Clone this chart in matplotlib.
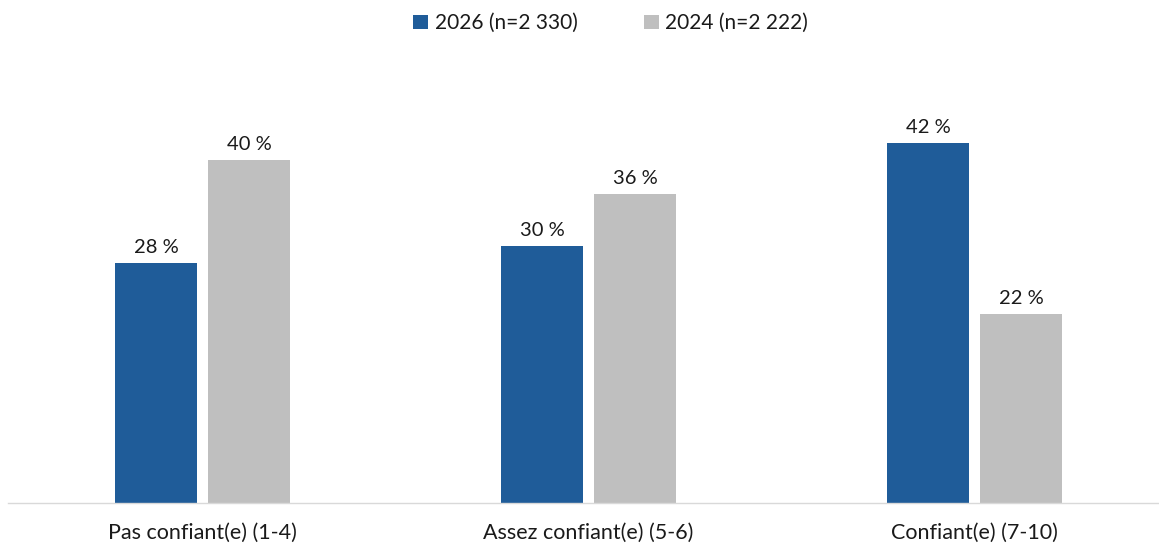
import matplotlib.pyplot as plt
import numpy as np

categories = ["Pas confiant(e) (1-4)", "Assez confiant(e) (5-6)", "Confiant(e) (7-10)"]
series_names = ["2026 (n=2 330)", "2024 (n=2 222)"]
values_2026 = [28, 30, 42]
values_2024 = [40, 36, 22]

blue = "#1F5C99"
grey = "#BFBFBF"

plt.rcParams["font.family"] = ["Lato", "DejaVu Sans"]

W, H = 1159, 548
fig = plt.figure(figsize=(W / 100, H / 100), dpi=100)
# axes placed in pixel units
left, right, bottom, top = 8, 1159, 45, 60
ax = fig.add_axes([left / W, bottom / H, (right - left) / W, (H - bottom - top) / H])

x = np.arange(len(categories))
w = 0.212
off = 0.1205
b1 = ax.bar(x - off, values_2026, w, color=blue, label=series_names[0])
b2 = ax.bar(x + off, values_2024, w, color=grey, label=series_names[1])

for bars, vals in ((b1, values_2026), (b2, values_2024)):
    for r, v in zip(bars, vals):
        ax.annotate(f"{v} %", (r.get_x() + r.get_width() / 2, v),
                    xytext=(0, 5), textcoords="offset points",
                    ha="center", va="bottom", fontsize=14.5, color="#1a1a1a")

ax.set_xlim(-0.504, 2.478)
ax.set_ylim(0, (H - bottom - top) / 8.58)
ax.set_xticks(x)
ax.set_xticklabels(categories, fontsize=15.5, color="#1a1a1a")
ax.tick_params(axis="x", length=0, pad=14)
ax.set_yticks([])
for s in ["top", "right", "left"]:
    ax.spines[s].set_visible(False)
ax.spines["bottom"].set_color("#D9D9D9")
ax.spines["bottom"].set_linewidth(1)

fig.legend(loc="upper center", bbox_to_anchor=(0.527, 1.01), ncol=2, frameon=False,
           fontsize=15, handlelength=0.72, handleheight=0.72, handletextpad=0.3,
           columnspacing=3.2, labelcolor="#1a1a1a")

fig.savefig("out.png", dpi=100)
